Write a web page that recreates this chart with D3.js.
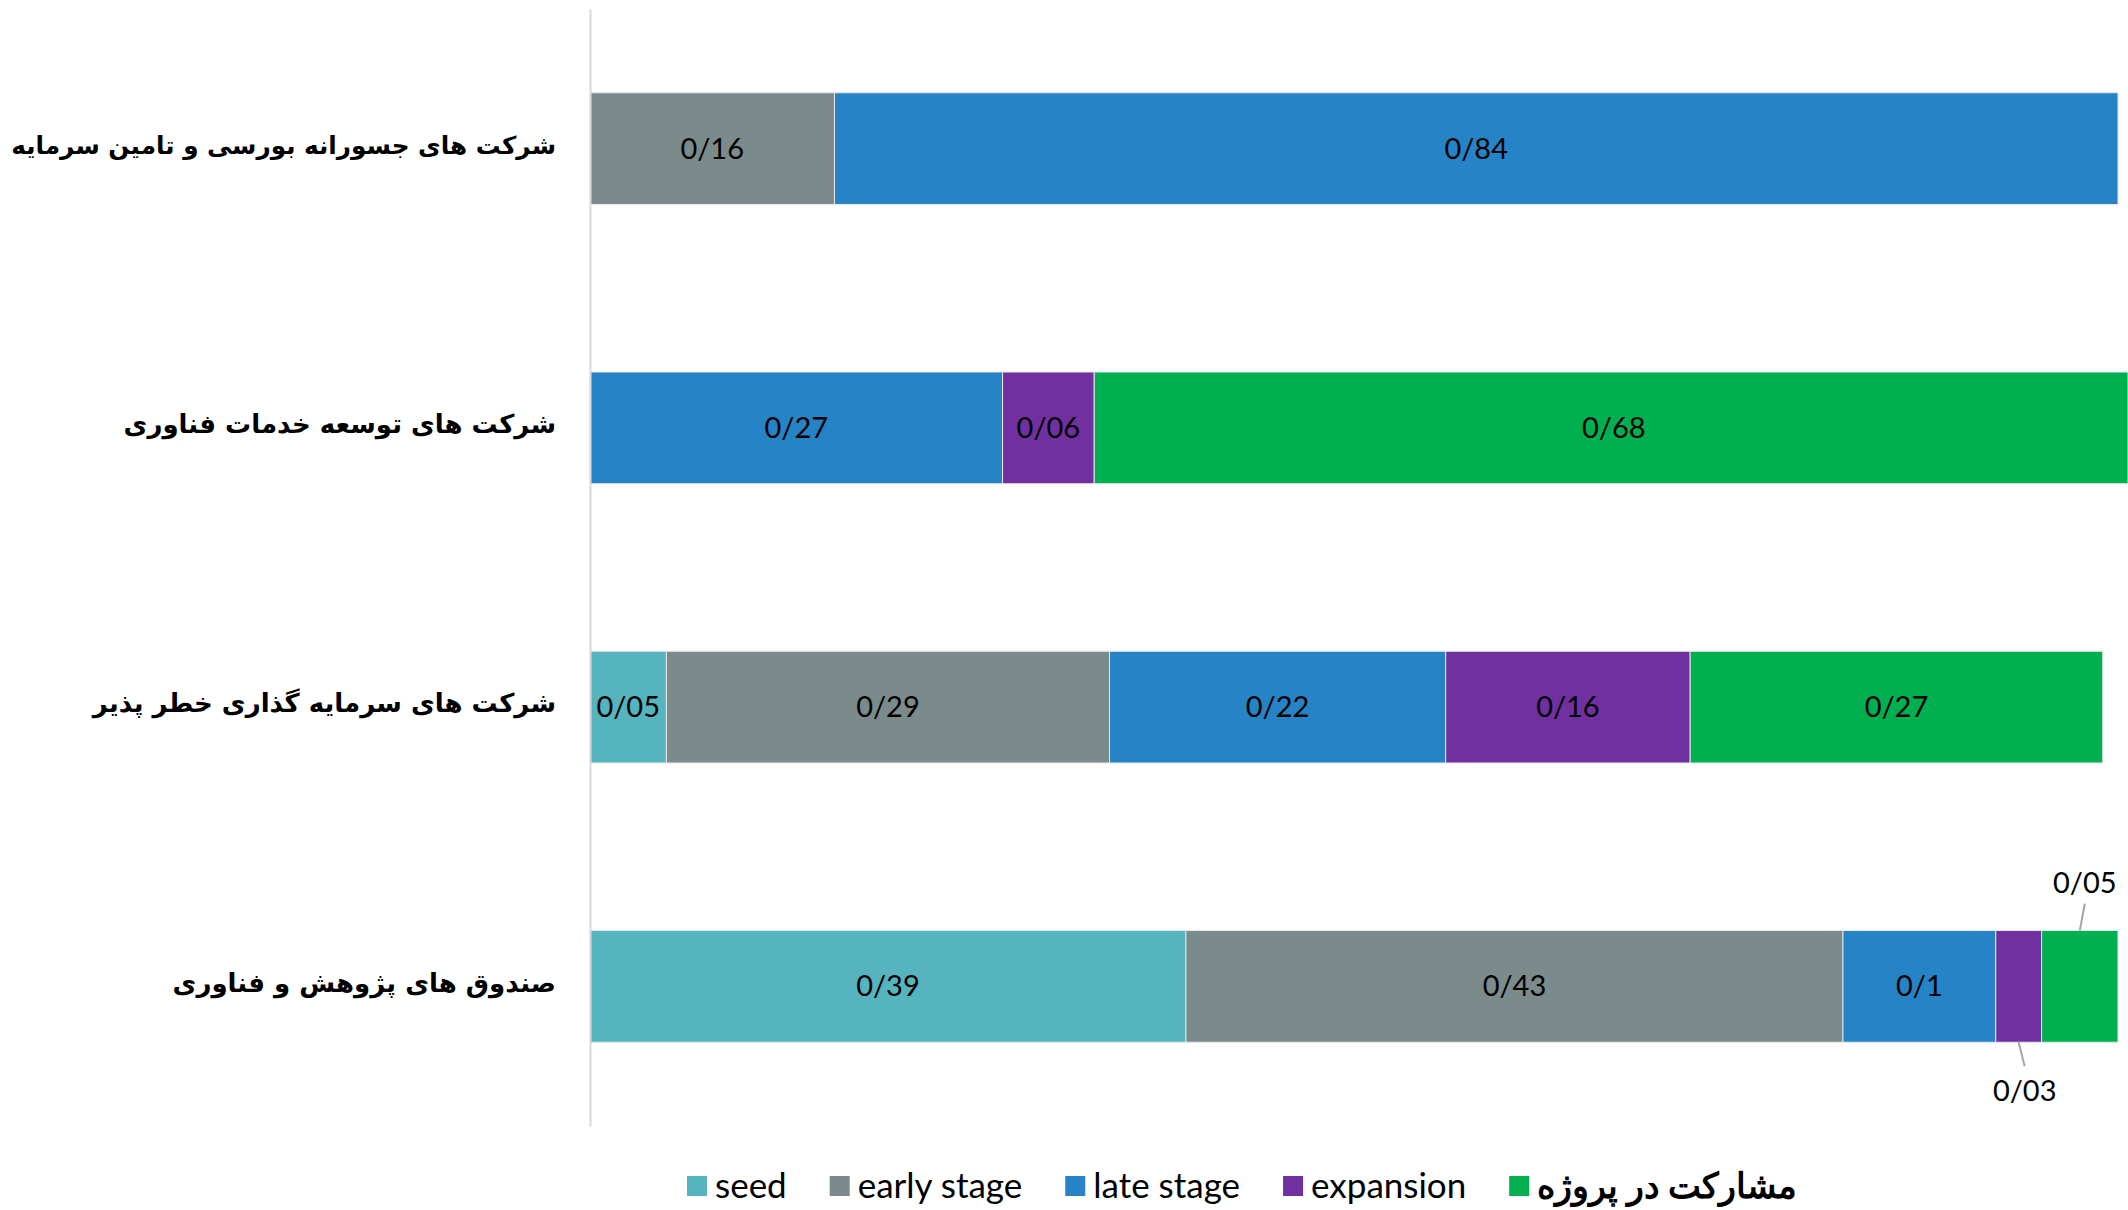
<!DOCTYPE html>
<html>
<head>
<meta charset="utf-8">
<script src="https://cdn.jsdelivr.net/npm/d3@7"></script>
<style>
  body { margin: 0; background: #fff; }
  .value { font-family: Lato, "Open Sans", sans-serif; font-size: 29px; fill: #000; }
  .cat text { font-family: "DejaVu Sans", sans-serif; font-weight: bold; font-size: 26px; fill: #000; }
  .legend text { font-family: Lato, sans-serif; font-size: 35px; fill: #000; }
</style>
</head>
<body>
<svg width="2128" height="1210"></svg>
<script>
const categories = [
  'شرکت های جسورانه بورسی و تامین سرمایه',
  'شرکت های توسعه خدمات فناوری',
  'شرکت های سرمایه گذاری خطر پذیر',
  'صندوق های پژوهش و فناوری'
];
const seriesNames = ['seed', 'early stage', 'late stage', 'expansion', 'مشارکت در پروژه'];
const seedValues      = [0,    0,    0.05, 0.39];
const earlyValues     = [0.16, 0,    0.29, 0.43];
const lateValues      = [0.84, 0.27, 0.22, 0.1];
const expansionValues = [0,    0.06, 0.16, 0.03];
const projectValues   = [0,    0.68, 0.27, 0.05];
const colors = ['#56B4BF', '#7B8B8C', '#2683C6', '#7030A0', '#00B050'];
// labels drawn outside the bar with a leader line: [category index, series index, side]
const callouts = [[3, 3, 'below'], [3, 4, 'above']];

const svg = d3.select('svg');
const width = +svg.attr('width');
const height = +svg.attr('height');

const margin = { top: 9, right: 10, bottom: 84, left: 590 };
const innerWidth = 1528;
const innerHeight = height - margin.top - margin.bottom;

const seriesValues = [seedValues, earlyValues, lateValues, expansionValues, projectValues];
const table = categories.map((c, i) => {
  const row = { category: c };
  seriesNames.forEach((s, j) => row[s] = seriesValues[j][i]);
  return row;
});
const stacked = d3.stack().keys(seriesNames)(table);

const xScale = d3.scaleLinear().domain([0, 1]).range([0, innerWidth]);
const yScale = d3.scaleBand()
  .domain(categories)
  .range([0, innerHeight])
  .paddingInner(0.6)
  .paddingOuter(0.3);

const g = svg.append('g')
  .attr('transform', `translate(${margin.left},${margin.top})`);

const fmt = v => String(v).replace('.', '/');

const barsG = g.append('g');
const labelsG = g.append('g');

stacked.forEach((layer, j) => {
  const lg = barsG.append('g').attr('fill', colors[j]);
  layer.forEach((d, i) => {
    if (d[1] - d[0] <= 0) return;
    const x0 = xScale(d[0]), x1 = xScale(d[1]);
    const y = yScale(categories[i]);
    lg.append('rect')
      .attr('x', x0)
      .attr('y', y)
      .attr('width', Math.min(x1, width - margin.left) - x0)
      .attr('height', yScale.bandwidth())
      .attr('stroke', '#e6e6e6')
      .attr('stroke-width', 1);
    const co = callouts.find(c => c[0] === i && c[1] === j);
    const mid = (x0 + x1) / 2;
    if (!co) {
      labelsG.append('text')
        .attr('class', 'value')
        .attr('x', mid)
        .attr('y', y + yScale.bandwidth() / 2 + 10)
        .attr('text-anchor', 'middle')
        .text(fmt(seriesValues[j][i]));
    } else if (co[2] === 'above') {
      labelsG.append('line')
        .attr('x1', mid).attr('y1', y)
        .attr('x2', mid + 5).attr('y2', y - 27)
        .attr('stroke', '#a6a6a6').attr('stroke-width', 2);
      labelsG.append('text')
        .attr('class', 'value')
        .attr('x', mid + 5)
        .attr('y', y - 38)
        .attr('text-anchor', 'middle')
        .text(fmt(seriesValues[j][i]));
    } else {
      const yb = y + yScale.bandwidth();
      labelsG.append('line')
        .attr('x1', mid).attr('y1', yb)
        .attr('x2', mid + 6).attr('y2', yb + 24)
        .attr('stroke', '#a6a6a6').attr('stroke-width', 2);
      labelsG.append('text')
        .attr('class', 'value')
        .attr('x', mid + 6)
        .attr('y', yb + 59)
        .attr('text-anchor', 'middle')
        .text(fmt(seriesValues[j][i]));
    }
  });
});

const yAxis = d3.axisLeft(yScale).tickSize(0).tickPadding(34);
const yAxisG = g.append('g').attr('class', 'cat').call(yAxis);
yAxisG.select('.domain').attr('stroke', '#d9d9d9').attr('stroke-width', 2);
yAxisG.selectAll('text')
  .attr('dy', '0.2em')
  .each(function () {
    // shrink a label that would not fit left of the axis
    const w = this.getComputedTextLength();
    if (w > 545) d3.select(this).style('font-size', (26 * 545 / w) + 'px');
  });

// legend
const legend = svg.append('g').attr('class', 'legend')
  .attr('transform', `translate(0, ${height - 24})`);
let lx = 687;
seriesNames.forEach((s, j) => {
  legend.append('rect')
    .attr('x', lx).attr('y', -10)
    .attr('width', 20).attr('height', 20)
    .attr('fill', colors[j]);
  const t = legend.append('text')
    .attr('x', lx + 28)
    .attr('y', 12)
    .text(s);
  if (j === 4) t.attr('font-family', '"DejaVu Sans", sans-serif').attr('font-weight', 'bold').attr('font-size', 28);
  lx += 28 + t.node().getComputedTextLength() + 43;
});
</script>
</body>
</html>
